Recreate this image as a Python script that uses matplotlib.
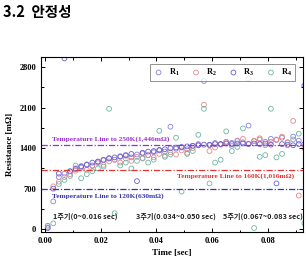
import numpy as np
import matplotlib
matplotlib.use("Agg")
from matplotlib import pyplot as plt
from matplotlib.ticker import AutoMinorLocator

# sample times [sec]
t = [0.001, 0.003, 0.005, 0.007, 0.009, 0.011, 0.013, 0.015, 0.017, 0.019,
     0.021, 0.023, 0.025, 0.027, 0.029, 0.031, 0.033, 0.035, 0.037, 0.039,
     0.041, 0.043, 0.045, 0.047, 0.049, 0.051, 0.053, 0.055, 0.057, 0.059,
     0.061, 0.063, 0.065, 0.067, 0.069, 0.071, 0.073, 0.075, 0.077, 0.079,
     0.081, 0.083, 0.085, 0.087, 0.089, 0.091, 0.093]

# resistance [mOhm]
R1 = [60, 480, 900, 960, 1000, 1050, 1090, 1120, 1100, 1160,
      1190, 1230, 1200, 1250, 1270, 1240, 1290, 1310, 1280, 1330,
      1360, 1340, 1770, 1390, 1410, 1380, 1440, 1470, 2560, 1450,
      1490, 1470, 1510, 1490, 1530, 1500, 1790, 1520, 1550, 1510,
      1560, 1540, 1580, 1500, 1600, 1530, 1470]
R2 = [20, 740, 820, 900, 950, 1010, 1060, 1030, 1090, 1140,
      1110, 1170, 1200, 1150, 1220, 1180, 1250, 1220, 1280, 1240,
      1300, 1270, 1330, 1290, 1360, 1320, 1400, 1450, 2150, 1350,
      1410, 1460, 1500, 1440, 1520, 1560, 1480, 1530, 1570, 1450,
      1510, 1550, 1600, 1500, 1870, 580, 1400]
R3 = [20, 700, 960, 2950, 1000, 1040, 1080, 1110, 1150, 1170,
      1200, 1220, 1240, 1260, 1280, 1300, 830, 1320, 1340, 1350,
      1370, 1380, 1400, 1410, 1420, 1430, 1440, 1450, 1460, 1460,
      1470, 1470, 1480, 1470, 1480, 1480, 1470, 1480, 1470, 1480,
      1460, 790, 1470, 1460, 1450, 1470, 2480]
R4 = [30, 100, 780, 850, 920, 1100, 880, 950, 1000, 1050,
      1080, 2080, 275, 1100, 1150, 1050, 1180, 1230, 1150, 1200,
      1700, 1250, 1290, 1580, 650, 1300, 1350, 1630, 2080, 790,
      1150, 1200, 1690, 1350, 1420, 1740, 2600, 20, 1250, 1280,
      2080, 1240, 1300, 1450, 1550, 1650, 100]

series = [("R$_1$", R1, "#8a80dc"), ("R$_2$", R2, "#e58a8a"),
          ("R$_3$", R3, "#6a5fd0"), ("R$_4$", R4, "#6fb5a5")]

# temperature reference lines
temp_lines = [(1446, "#9b30d0", "Temperature Line to 250K(1,446m\u03a9)", 0.0025, 1560),
              (1016, "#e03535", "Temperature Line to 160K(1,016m\u03a9)", 0.0475, 920),
              (700, "#3535a8", "Temperature Line to 120K(630m\u03a9)", 0.0025, 570)]

periods = [(0.003, "1주기(0~0.016 sec)"),
           (0.0325, "3주기(0.034~0.050 sec)"),
           (0.064, "5주기(0.067~0.083 sec)")]

serif = ["Liberation Serif", "Noto Sans CJK KR"]
plt.rcParams["font.family"] = serif
plt.rcParams["font.weight"] = "bold"
plt.rcParams["mathtext.fontset"] = "custom"
plt.rcParams["mathtext.rm"] = "Liberation Serif:bold"
plt.rcParams["mathtext.it"] = "Liberation Serif:bold"
plt.rcParams["mathtext.bf"] = "Liberation Serif:bold"

fig = plt.figure(figsize=(3.06, 2.59), dpi=100)
ax = fig.add_axes([0.134, 0.104, 0.856, 0.676])

for name, vals, col in series:
	ax.scatter(t, vals, s=12, facecolors="none", edgecolors=col, linewidths=0.6, label=name)

for y, col, txt, tx, ty in temp_lines:
	ax.axhline(y, color=col, lw=0.9, ls=(0, (5, 1.5, 1, 1.5)))
	ax.text(tx, ty, txt, color=col, fontsize=5.3, fontweight="bold", va="center", ha="left")

for tx, txt in periods:
	ax.text(tx, 225, txt, fontsize=5.2, va="center", ha="left",
	        family=["Noto Sans CJK KR", "DejaVu Sans"], color="#222222")

ax.set_xlim(-0.0014, 0.0925)
ax.set_ylim(-50, 2975)
ax.set_xticks([0, 0.02, 0.04, 0.06, 0.08])
ax.set_xticklabels(["0.00", "0.02", "0.04", "0.06", "0.08"])
ax.set_yticks([0, 700, 1400, 2100, 2800])
ax.xaxis.set_minor_locator(AutoMinorLocator(2))
ax.yaxis.set_minor_locator(AutoMinorLocator(2))
ax.tick_params(which="both", direction="in", top=True, right=True, labelsize=6, width=0.7)
ax.tick_params(which="major", length=3)
ax.tick_params(which="minor", length=1.8)
for sp in ax.spines.values():
	sp.set_linewidth(0.8)

ax.set_xlabel("Time [sec]", fontsize=6.5, fontweight="bold", labelpad=3)
ax.set_ylabel("Resistance [m\u03a9]", fontsize=6.5, fontweight="bold", labelpad=4)

leg = ax.legend(loc="upper right", ncol=4, frameon=True, fancybox=False,
                edgecolor="#777777", handletextpad=0.5, columnspacing=1.3,
                handlelength=1.4, borderpad=0.35, bbox_to_anchor=(0.985, 0.985),
                prop={"weight": "bold", "size": 6})
leg.get_frame().set_linewidth(0.7)

fig.text(0.01, 0.955, "3.2  안정성", fontsize=10.5, fontweight="bold",
         family=["Noto Sans CJK KR", "DejaVu Sans"], va="center", ha="left")

fig.savefig("out.png", dpi=100)
